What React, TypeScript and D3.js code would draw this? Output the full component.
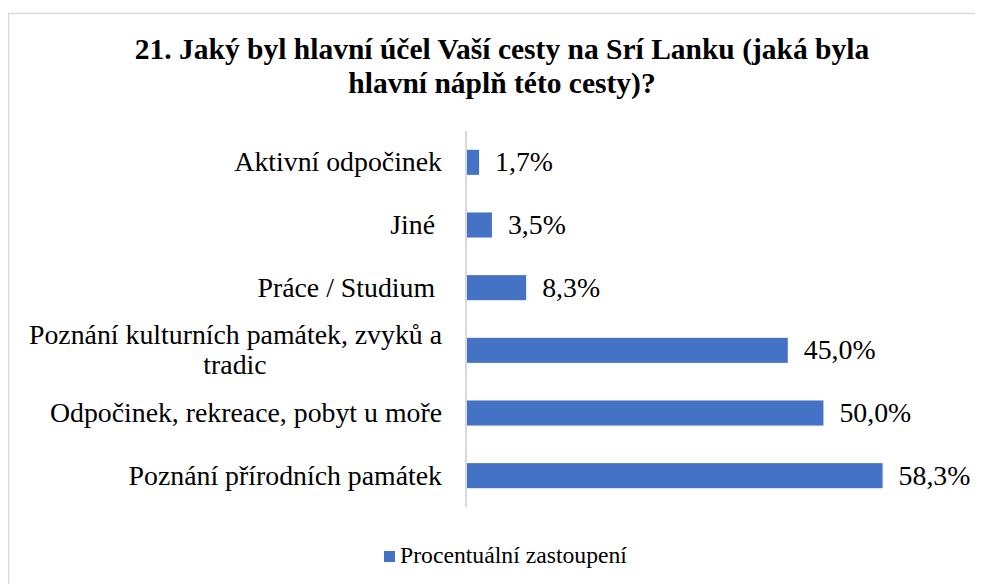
import React from "react";
import * as d3 from "d3";

// categories top to bottom, trailing spaces kept as in the source
const categories = [
  ["Aktivní odpočinek"],
  ["Jiné "],
  ["Práce / Studium "],
  ["Poznání kulturních památek, zvyků a", "tradic"],
  ["Odpočinek, rekreace, pobyt u moře"],
  ["Poznání přírodních památek"],
];
const values = [0.017, 0.035, 0.083, 0.45, 0.5, 0.583];
const titleLines = [
  "21. Jaký byl hlavní účel Vaší cesty na Srí Lanku (jaká byla",
  "hlavní náplň této cesty)?",
];
const seriesName = "Procentuální zastoupení";

const fmt = (v: number) => (v * 100).toFixed(1).replace(".", ",") + "%";

const blue = "#4472C4";
const fam = "Liberation Serif";
const serif = { fontFamily: `"${fam}"`, whiteSpace: "pre" as const };
const fs = 27.8;

function App() {
  const x = d3.scaleLinear().domain([0, 0.7]).range([467, 966]);
  const y = d3
    .scaleBand<number>()
    .domain(d3.range(values.length))
    .range([131, 507])
    .paddingInner(0.6)
    .paddingOuter(0.3);
  const mid = (i: number) => y(i)! + y.bandwidth() / 2;
  const labelRight = 442;
  const lineH = 30;

  // svg sits inside the 8px body margin, so content is shifted back by 8
  return (
    <svg width={975} height={576}>
      <g transform="translate(-8,-8)">
        {/* chart frame, right/bottom edges run off the picture */}
        <rect x={8.5} y={13.5} width={1000} height={600} fill="#fff" stroke="#d9d9d9" strokeWidth={1.5} />

        <text x={502} y={59} textAnchor="middle" fontWeight="bold" fontSize={29.5} style={serif}>
          {titleLines.map((t, i) => (
            <tspan key={i} x={502} dy={i === 0 ? 0 : 34}>
              {t}
            </tspan>
          ))}
        </text>

        {values.map((v, i) => (
          <rect key={i} x={x(0)} y={y(i)} width={x(v) - x(0)} height={y.bandwidth()} fill={blue} />
        ))}

        <line x1={x(0) - 1} x2={x(0) - 1} y1={131} y2={507} stroke="#d9d9d9" strokeWidth={2} />

        {values.map((v, i) => (
          <text key={i} x={x(v) + 16} y={mid(i) + 9} fontSize={fs} style={serif}>
            {fmt(v)}
          </text>
        ))}

        {categories.map((lines, i) => {
          const y0 = mid(i) + 9 - ((lines.length - 1) * lineH) / 2;
          return (
            <g key={i}>
              <text x={labelRight} y={y0} textAnchor="end" fontSize={fs} style={serif}>
                {lines[0]}
              </text>
              {/* wrapped lines are centred under the first one */}
              {lines.slice(1).map((l, j) => (
                <text key={j} x={235} y={y0 + lineH * (j + 1)} textAnchor="middle" fontSize={fs} style={serif}>
                  {l}
                </text>
              ))}
            </g>
          );
        })}

        <rect x={384} y={551} width={11} height={11} fill={blue} />
        <text x={400} y={563} fontSize={23.7} style={serif}>
          {seriesName}
        </text>
      </g>
    </svg>
  );
}

export default App;
